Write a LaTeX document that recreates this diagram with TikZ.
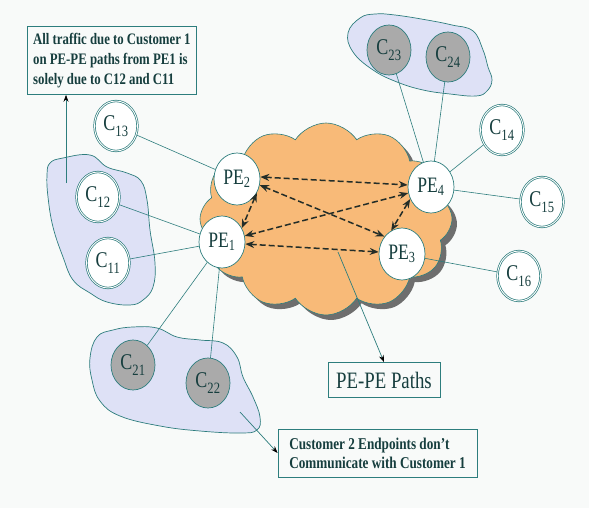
\documentclass[tikz,border=0pt]{standalone}
\usepackage{fontspec}
\setmainfont{Liberation Serif}[FakeStretch=0.8]
\usetikzlibrary{shapes.symbols,shapes.geometric,arrows.meta}
\pgfdeclarelayer{back}
\pgfdeclarelayer{mid}
\pgfsetlayers{back,mid,main}
\definecolor{bgc}{RGB}{248,250,249}
\definecolor{linec}{RGB}{45,125,125}
\definecolor{txtc}{RGB}{22,62,62}
\definecolor{cloudc}{RGB}{248,186,120}
\definecolor{shadc}{RGB}{110,110,110}
\definecolor{blobc}{RGB}{222,225,246}
\definecolor{greyc}{RGB}{170,170,170}
\definecolor{dashc}{RGB}{35,45,40}
\newcommand{\lbl}[2]{#1\textsubscript{\raisebox{-0.3ex}{#2}}}
\tikzset{
  cnode/.style={ellipse, minimum width=43pt, minimum height=50pt, inner sep=0pt, fill=white, draw=linec, double=white, double distance=0.9pt, line width=0.7pt, text=txtc, font=\fontsize{22.5}{22.5}\selectfont},
  penode/.style={ellipse, minimum width=46pt, minimum height=52pt, inner sep=0pt, fill=white, draw=linec, line width=0.7pt, text=txtc, font=\fontsize{22}{22}\selectfont},
  gnode/.style={ellipse, minimum width=44pt, minimum height=50pt, inner sep=0pt, fill=greyc, draw=linec, line width=0.7pt, text=txtc, font=\fontsize{22.5}{22.5}\selectfont},
  conn/.style={draw=linec, line width=0.6pt},
  blob/.style={fill=blobc, draw=linec, line width=0.7pt},
  dasharr/.style={draw=dashc, line width=1.5pt, dash pattern=on 6pt off 3pt, {Stealth[length=9pt,width=7pt]}-{Stealth[length=9pt,width=7pt]}},
  arr/.style={draw=linec, line width=0.7pt, -{Stealth[length=7pt,width=5pt,color=black]}},
  textbox/.style={draw=linec, line width=0.8pt, fill=bgc, text=txtc, align=left}
}
\begin{document}
\begin{tikzpicture}[x=1pt,y=-1pt]
\useasboundingbox (0,0) rectangle (589,508);

\begin{pgfonlayer}{back}
\fill[bgc] (0,0) rectangle (589,508);
% blobs
\draw[blob] plot[smooth cycle, tension=0.7] coordinates {(348,33) (360,18) (375,14) (395,15) (427,20) (452,25) (473,31) (483,50) (488,67) (492,80) (487,91) (476,96) (450,94) (423,90) (397,82) (373,70) (353,52)};
\draw[blob] plot[smooth cycle, tension=0.7] coordinates {(50,163) (63,158) (90,155) (107,167) (127,173) (141,181) (147,200) (150,230) (155,263) (153,287) (143,300) (130,305) (107,302) (90,293) (73,280) (63,257) (53,227) (48,197) (47,175)};
\draw[blob] plot[smooth cycle, tension=0.7] coordinates {(97,337) (113,330) (133,327) (157,328) (177,337) (200,340) (223,343) (237,357) (243,377) (253,397) (260,417) (257,430) (240,433) (200,431) (160,426) (120,416) (100,401) (92,380) (90,358)};
% cloud with shadow
\node[cloud, cloud puffs=12, cloud puff arc=115, aspect=1.3, minimum width=252pt, minimum height=192pt, fill=shadc, inner sep=0pt] (cloudsh) at (331,224) {};
\node[cloud, cloud puffs=12, cloud puff arc=115, aspect=1.3, minimum width=252pt, minimum height=192pt, fill=cloudc, draw=linec, line width=0.6pt, inner sep=0pt] (cloud) at (326,219) {};
\end{pgfonlayer}

% PE nodes
\node[penode] (PE1) at (222,242) {PE\textsubscript{1}};
\node[penode] (PE2) at (237,179) {PE\textsubscript{2}};
\node[penode] (PE3) at (402,254) {PE\textsubscript{3}};
\node[penode] (PE4) at (431,187) {PE\textsubscript{4}};

% customer nodes
\node[cnode] (C13) at (116,126) {\lbl{C}{13}};
\node[cnode] (C12) at (98,197) {\lbl{C}{12}};
\node[cnode] (C11) at (108,263) {\lbl{C}{11}};
\node[cnode] (C14) at (502,130) {\lbl{C}{14}};
\node[cnode] (C15) at (542,202) {\lbl{C}{15}};
\node[cnode] (C16) at (519,276) {\lbl{C}{16}};
\node[gnode] (C21) at (133,365) {\lbl{C}{21}};
\node[gnode] (C22) at (208,383) {\lbl{C}{22}};
\node[gnode] (C23) at (389,50) {\lbl{C}{23}};
\node[gnode] (C24) at (448,57) {\lbl{C}{24}};

% connectors (behind nodes)
\begin{pgfonlayer}{mid}
\draw[conn] (C13) -- (PE2);
\draw[conn] (C12) -- (PE1);
\draw[conn] (C11) -- (PE1);
\draw[conn] (PE1) -- (C21);
\draw[conn] (PE1) -- (C22);
\draw[conn] (C23) -- (PE4);
\draw[conn] (C24) -- (PE4);
\draw[conn] (PE4) -- (C14);
\draw[conn] (PE4) -- (C15);
\draw[conn] (PE3) -- (C16);
\end{pgfonlayer}

% dashed paths
\draw[dasharr] (PE2.5) -- (PE4.175);
\draw[dasharr] (PE2.-15) -- (PE3.135);
\draw[dasharr] (PE2.-35) -- (PE1.35);
\draw[dasharr] (PE1.15) -- (PE4.195);
\draw[dasharr] (PE1.-5) -- (PE3.175);
\draw[dasharr] (PE4.210) -- (PE3.115);

% text boxes
\node[textbox, anchor=north west, minimum width=169pt, minimum height=68pt, inner xsep=5pt, font=\bfseries\fontsize{16}{20}\selectfont] (tl) at (27,26) {All traffic due to Customer 1\\on PE-PE paths from PE1 is\\solely due to C12 and C11};
\node[textbox, minimum width=112pt, minimum height=35pt, font=\fontsize{23.5}{24}\selectfont] (pp) at (384,380) {PE-PE Paths};
\node[textbox, minimum width=199pt, minimum height=48pt, inner xsep=5pt, font=\bfseries\fontsize{16.5}{19}\selectfont] (cb) at (377.5,453) {Customer 2 Endpoints don't\\Communicate with Customer 1};

% annotation arrows
\coordinate (tla) at (66,183);
\coordinate (ppa) at (338,252);
\coordinate (cba) at (240,412);
\draw[arr] (tla) -- (tla |- tl.south);
\draw[arr] (ppa) -- (pp.north);
\draw[arr] (cba) -- (cb.west);
\end{tikzpicture}
\end{document}
